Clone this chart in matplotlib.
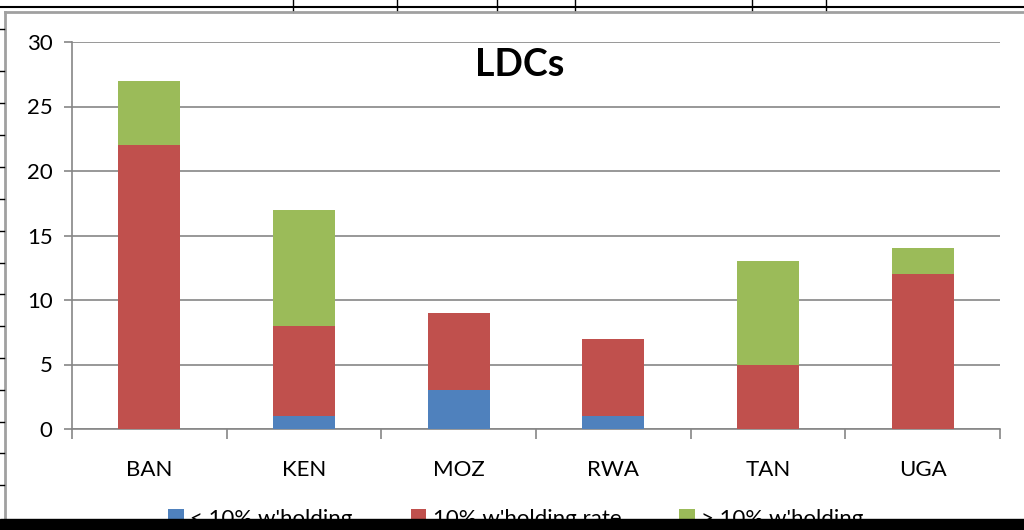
import matplotlib
matplotlib.use("Agg")
import matplotlib.pyplot as plt
from matplotlib.patches import Rectangle
from matplotlib.lines import Line2D
import numpy as np

categories = ["BAN", "KEN", "MOZ", "RWA", "TAN", "UGA"]
below_10 = [0, 1, 3, 1, 0, 0]
at_10 = [22, 7, 6, 6, 5, 12]
above_10 = [5, 9, 0, 0, 8, 2]
series_names = ["< 10% w'holding", "10% w'holding rate", "> 10% w'holding"]
colors = ["#4F81BD", "#C0504D", "#9BBB59"]
yticks = [0, 5, 10, 15, 20, 25, 30]

plt.rcParams['font.family'] = ['Lato', 'DejaVu Sans']

W, H = 1024, 530
fig = plt.figure(figsize=(W / 100, H / 100), dpi=100)
fig.patch.set_facecolor("white")

def fx(px):
    return px / W

def fy(py):
    return 1 - py / H

ax = fig.add_axes([fx(72), fy(429), fx(1000) - fx(72), fy(42) - fy(429)])
x = np.arange(len(categories))
b1 = np.array(below_10)
b2 = np.array(at_10)
b3 = np.array(above_10)
h1 = ax.bar(x, b1, width=0.4, color=colors[0], zorder=3)
h2 = ax.bar(x, b2, width=0.4, bottom=b1, color=colors[1], zorder=3)
h3 = ax.bar(x, b3, width=0.4, bottom=b1 + b2, color=colors[2], zorder=3)

ax.set_xlim(-0.5, len(categories) - 0.5)
ax.set_ylim(0, 30)
ax.set_yticks(yticks)
ax.set_yticklabels([str(v) for v in yticks], fontsize=16)
ax.yaxis.grid(True, color="#868686", linewidth=1.2, zorder=0)
ax.set_axisbelow(True)
for s in ["top", "right"]:
    ax.spines[s].set_visible(False)
ax.spines["left"].set_color("#868686")
ax.spines["bottom"].set_color("#868686")
ax.spines["left"].set_linewidth(1.2)
ax.spines["bottom"].set_linewidth(1.2)
ax.tick_params(axis="y", length=6, color="#868686", width=1.2, pad=8, labelcolor="black")
ax.set_xticks(x)
ax.set_xticklabels(categories, fontsize=16)
ax.tick_params(axis="x", length=0, pad=22)
ax.set_xticks(np.arange(-0.5, len(categories)), minor=True)
ax.tick_params(axis="x", which="minor", length=7, color="#868686", width=1.2, direction="out")
ax.text(0.482, 0.94, "LDCs", transform=ax.transAxes, ha="center", va="center",
        fontsize=27, fontweight="bold")

leg = fig.legend([h1, h2, h3], series_names, loc="center", bbox_to_anchor=(fx(516), fy(519)),
                 ncol=3, frameon=False, fontsize=16, handlelength=0.7, handleheight=0.7,
                 handletextpad=0.3, columnspacing=2.6)
leg.set_zorder(1)

# spreadsheet frame
fig.add_artist(Line2D([0, 1], [fy(7), fy(7)], color="black", linewidth=1.5, zorder=5))
for vx in [293, 397, 497, 575, 752, 826]:
    fig.add_artist(Line2D([fx(vx), fx(vx)], [fy(0), fy(12)], color="black", linewidth=1, zorder=5))
fig.add_artist(Line2D([fx(5), 1], [fy(12), fy(12)], color="#A0A0A0", linewidth=2, zorder=5))
fig.add_artist(Line2D([fx(5), fx(5)], [fy(12), fy(530)], color="#A0A0A0", linewidth=2, zorder=5))
for ry in [29, 71, 103, 135, 167, 199, 231, 263, 294, 326, 358, 390, 422, 453, 485]:
    fig.add_artist(Line2D([0, fx(4)], [fy(ry), fy(ry)], color="black", linewidth=1, zorder=5))
fig.add_artist(Rectangle((0, 0), 1, fy(519), transform=fig.transFigure, color="black", zorder=10))

fig.savefig("out.png", dpi=100)
